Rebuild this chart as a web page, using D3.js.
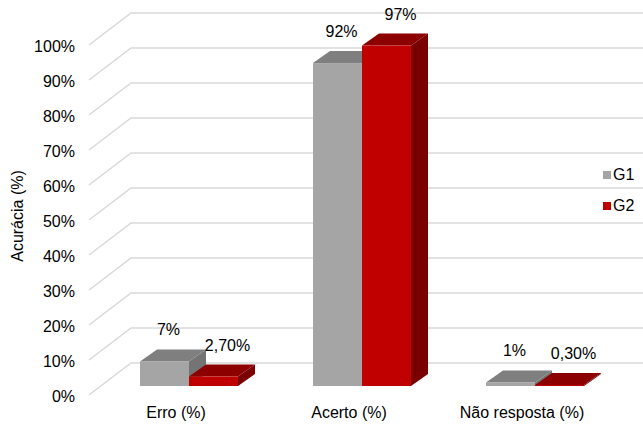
<!DOCTYPE html>
<html>
<head>
<meta charset="utf-8">
<script src="https://cdn.jsdelivr.net/npm/d3@7"></script>
<style>
  html, body { margin: 0; padding: 0; background: #ffffff; }
  svg { display: block; font-family: "Liberation Sans", Arial, Helvetica, sans-serif; }
</style>
</head>
<body>
<svg id="chart" width="643" height="424"></svg>
<script>
// Categories, series and values (percent)
const categories = ["Erro (%)", "Acerto (%)", "Não resposta (%)"];
const seriesNames = ["G1", "G2"];
const valuesG1 = [7, 92, 1];
const valuesG2 = [2.7, 97, 0.3];
const labelsG1 = ["7%", "92%", "1%"];
const labelsG2 = ["2,70%", "97%", "0,30%"];
const yTicks = [0, 10, 20, 30, 40, 50, 60, 70, 80, 90, 100];
const yTitle = "Acurácia (%)";

const W = 643, H = 424;
const svg = d3.select("#chart");

// Colours: front / top / side faces
const palette = {
  G1: { front: "#a5a5a5", top: "#7f7f7f", side: "#747474" },
  G2: { front: "#c00000", top: "#8c0000", side: "#7a0000" }
};

// Front plane of the 3D box (axis labels) and its back wall offset
const yFront = d3.scaleLinear().domain([0, 100]).range([395, 45]);
const wallDX = 42, wallDY = 32;
// Plane on which the bar fronts sit
const yBar = d3.scaleLinear().domain([0, 100]).range([386, 35]);
const barDX = 17, barDY = 12;

const x0 = d3.scaleBand().domain(categories).range([102.5, 621.5]).padding(0);
const groupW = 98;
const x1 = d3.scaleBand().domain(seriesNames).range([0, groupW]).padding(0);

// Gridlines: diagonal on the floor-side wall, horizontal on the back wall
const grid = svg.append("g");
yTicks.forEach(t => {
  const xa = 89, ya = yFront(t);
  const xb = xa + wallDX, yb = ya - wallDY;
  grid.append("path")
    .attr("d", `M${xa},${ya}L${xb},${yb}L${W},${yb}`)
    .attr("fill", "none")
    .attr("stroke", "#d9d9d9")
    .attr("stroke-width", 1.5);
});

// Y tick labels
const yAxis = d3.axisLeft(yFront).tickValues(yTicks).tickFormat(d => d + "%").tickSize(0).tickPadding(0);
const yg = svg.append("g").attr("transform", "translate(75,0)").call(yAxis);
yg.select(".domain").remove();
yg.selectAll("text")
  .attr("font-size", 16)
  .attr("font-family", "Liberation Sans, Arial, sans-serif")
  .attr("fill", "#000")
  .attr("dy", "0.4em");

// Y axis title
svg.append("text")
  .attr("transform", "translate(23,216) rotate(-90)")
  .attr("text-anchor", "middle")
  .attr("font-size", 16)
  .attr("fill", "#000")
  .text(yTitle);

// Bars
const data = [];
categories.forEach((c, i) => {
  data.push({ cat: c, s: "G1", v: valuesG1[i], label: labelsG1[i] });
  data.push({ cat: c, s: "G2", v: valuesG2[i], label: labelsG2[i] });
});

const groupOffset = (x0.bandwidth() - groupW) / 2;
const bars = svg.append("g");
data.forEach(d => {
  const x = x0(d.cat) + groupOffset + x1(d.s);
  const w = x1.bandwidth();
  const yt = yBar(d.v), yb = yBar(0);
  const col = palette[d.s];
  const g = bars.append("g");
  // side face
  g.append("path")
    .attr("d", `M${x + w},${yt}L${x + w + barDX},${yt - barDY}L${x + w + barDX},${yb - barDY}L${x + w},${yb}Z`)
    .attr("fill", col.side);
  // top face
  g.append("path")
    .attr("d", `M${x},${yt}L${x + w},${yt}L${x + w + barDX},${yt - barDY}L${x + barDX},${yt - barDY}Z`)
    .attr("fill", col.top);
  // front face
  g.append("rect")
    .attr("x", x).attr("y", yt)
    .attr("width", w).attr("height", Math.max(0, yb - yt))
    .attr("fill", col.front);
});

// Value labels
const labelShift = { G1: 4, G2: 14 };
svg.append("g").selectAll("text")
  .data(data)
  .join("text")
  .attr("x", d => x0(d.cat) + groupOffset + x1(d.s) + x1.bandwidth() / 2 + labelShift[d.s])
  .attr("y", d => yBar(d.v) - 26)
  .attr("text-anchor", "middle")
  .attr("font-size", 16)
  .attr("fill", "#000")
  .text(d => d.label);

// Category labels
svg.append("g").selectAll("text")
  .data(categories)
  .join("text")
  .attr("x", d => x0(d) + x0.bandwidth() / 2 - 13)
  .attr("y", 418)
  .attr("text-anchor", "middle")
  .attr("font-size", 16)
  .attr("fill", "#000")
  .text(d => d);

// Legend
const legend = svg.append("g").attr("transform", "translate(603,171)");
seriesNames.forEach((s, i) => {
  const row = legend.append("g").attr("transform", `translate(0,${i * 31})`);
  row.append("rect").attr("width", 8).attr("height", 8).attr("fill", palette[s].front);
  row.append("text").attr("x", 10).attr("y", 9).attr("font-size", 16).attr("fill", "#000").text(s);
});
</script>
</body>
</html>
